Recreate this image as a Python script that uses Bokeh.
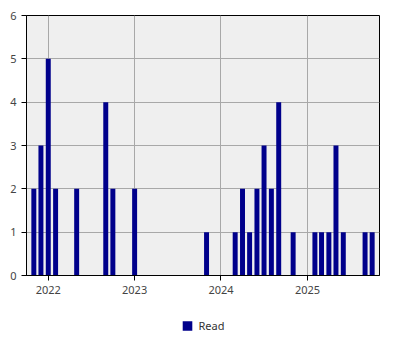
import pandas as pd
from datetime import datetime
from bokeh.plotting import figure
from bokeh.layouts import column
from bokeh.models import (ColumnDataSource, Legend, LegendItem, DatetimeTickFormatter,
                          FixedTicker, Range1d, SingleIntervalTicker)
from bokeh.embed import file_html
from bokeh.resources import INLINE

months = ["2021-11", "2021-12", "2022-01", "2022-02", "2022-05", "2022-09", "2022-10",
          "2023-01", "2023-11", "2024-03", "2024-04", "2024-05", "2024-06", "2024-07",
          "2024-08", "2024-09", "2024-11", "2025-02", "2025-03", "2025-04", "2025-05",
          "2025-06", "2025-09", "2025-10"]
counts = [2, 3, 5, 2, 2, 4, 2, 2, 1, 1, 2, 1, 2, 3, 2, 4, 1, 1, 1, 1, 3, 1, 1, 1]
tick_years = [2022, 2023, 2024, 2025]
series_name = "Read"
bar_color = "#00008B"

dates = pd.to_datetime([m + "-01" for m in months])
src = ColumnDataSource(dict(x=dates, top=counts))

p = figure(width=400, height=300, x_axis_type="datetime", output_backend="svg",
           toolbar_location=None,
           x_range=Range1d(datetime(2021, 10, 1), datetime(2025, 11, 1)),
           y_range=Range1d(0, 6),
           min_border_left=26, min_border_top=15, min_border_right=21, min_border_bottom=25)

p.background_fill_color = "#EFEFEF"
p.border_fill_color = "white"
p.outline_line_color = "black"
p.outline_line_alpha = 1
p.outline_line_width = 1

r = p.vbar(x="x", top="top", bottom=0, width=21 * 86400000, source=src,
           fill_color=bar_color, line_color=None)

tick_ms = [pd.Timestamp(f"{y}-01-01").value // 10**6 for y in tick_years]
p.xaxis.ticker = FixedTicker(ticks=tick_ms)
fmt = "%Y"
p.xaxis.formatter = DatetimeTickFormatter(years=fmt, months=fmt, days=fmt, hours=fmt,
                                          minutes=fmt, seconds=fmt, milliseconds=fmt,
                                          microseconds=fmt, minsec=fmt, hourmin=fmt)
p.yaxis.ticker = SingleIntervalTicker(interval=1)

for ax in (p.xaxis, p.yaxis):
    ax.axis_line_color = "black"
    ax.major_tick_line_color = "black"
    ax.major_tick_out = 5
    ax.major_tick_in = 0
    ax.minor_tick_line_color = None
    ax.major_label_text_color = "#444444"
    ax.major_label_text_font = "Noto Sans"
    ax.major_label_text_font_size = "11px"

p.xgrid.grid_line_color = "#A8A8A8"
p.ygrid.grid_line_color = "#A8A8A8"

# legend strip below the chart
lg = figure(width=400, height=50, output_backend="svg", toolbar_location=None,
            x_range=Range1d(0, 1), y_range=Range1d(0, 1),
            x_axis_location=None, y_axis_location=None,
            min_border_left=0, min_border_right=0, min_border_top=0, min_border_bottom=0)
lg.outline_line_color = None
lg.background_fill_color = "white"
lg.border_fill_color = "white"
lg.xgrid.visible = False
lg.ygrid.visible = False
# zero-height proxy renderer, only used for the legend swatch
r_leg = lg.vbar(x=[0.5], top=[0], bottom=0, width=0.01, fill_color=bar_color, line_color=None)

legend = Legend(items=[LegendItem(label=series_name, renderers=[r_leg], index=0)],
                orientation="horizontal", location="center",
                border_line_color=None, background_fill_alpha=0,
                glyph_width=12, glyph_height=12, label_height=12, label_standoff=6,
                label_text_font="Noto Sans", label_text_font_size="11px",
                label_text_color="#333333", padding=4, margin=0)
lg.add_layout(legend)

layout = column(p, lg, spacing=0)
open("out.html", "w").write(file_html(layout, INLINE))
